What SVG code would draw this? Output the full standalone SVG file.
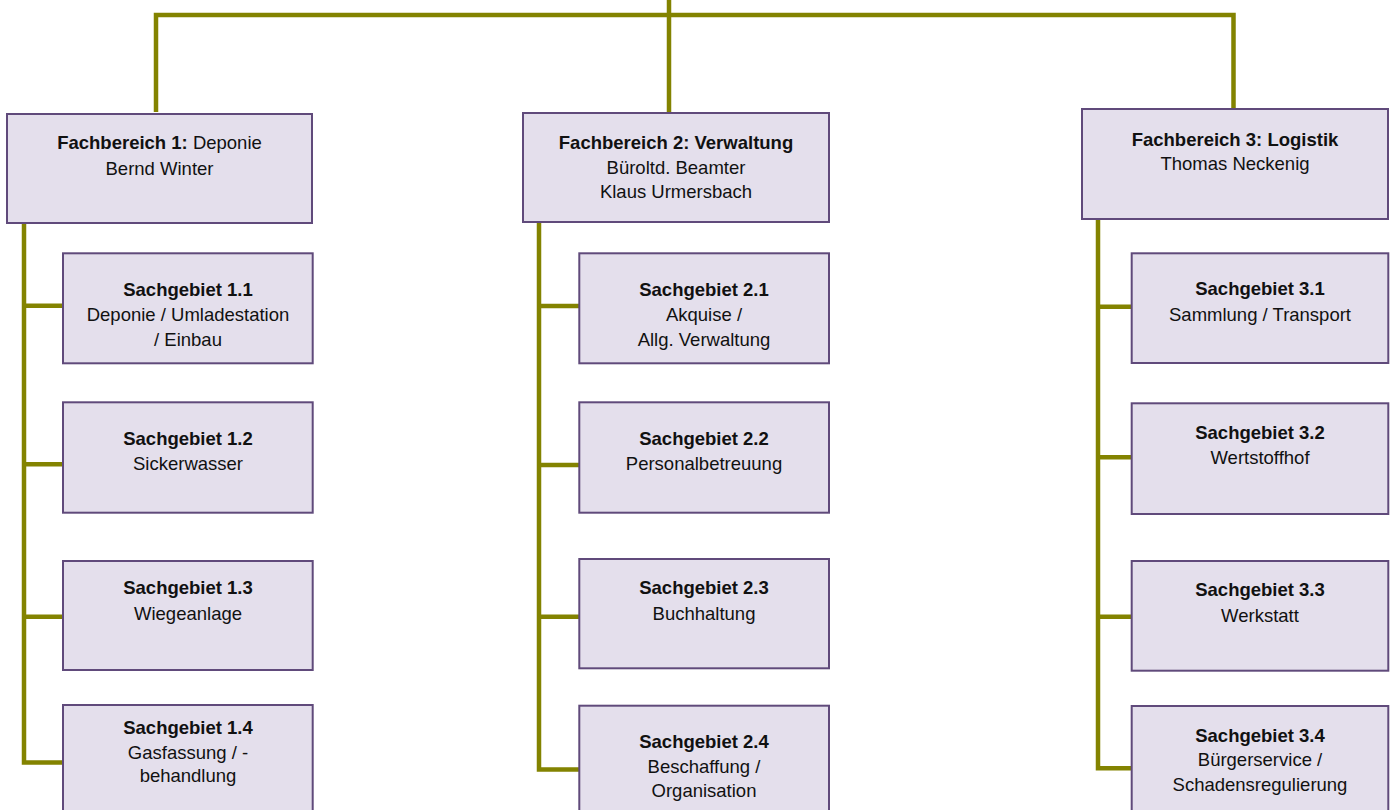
<svg xmlns="http://www.w3.org/2000/svg" width="1398" height="810" viewBox="0 0 1398 810">
<style>
.box{fill:#e4dfec;stroke:#604a7b;stroke-width:2}
.con{fill:none;stroke:#838300;stroke-width:4.5;stroke-linejoin:miter;stroke-linecap:butt}
text{font-family:"Liberation Sans",Arial,sans-serif;font-size:18.5px;fill:#111;text-anchor:middle}
.b{font-weight:bold}
</style>
<rect width="1398" height="810" fill="#ffffff"/>
<g id="connectors">
<path class="con" d="M669,0 V113"/>
<path class="con" d="M156,112 V15 H1233.5 V109"/>
<path class="con" d="M24,223 V762.5 H63"/>
<path class="con" d="M24,305.7 H63 M24,464.3 H63 M24,616.7 H63"/>
<path class="con" d="M539,222 V769.5 H579"/>
<path class="con" d="M539,306 H579 M539,465 H579 M539,616.7 H579"/>
<path class="con" d="M1098,219 V768.3 H1132"/>
<path class="con" d="M1098,306.7 H1132 M1098,457.3 H1132 M1098,616.7 H1132"/>
</g>
<g id="fb1">
<rect class="box" x="7" y="114" width="305" height="109"/>
<text x="159.5" y="149.3"><tspan class="b">Fachbereich 1:</tspan> Deponie</text>
<text x="159.5" y="175">Bernd Winter</text>
</g>
<g id="fb2">
<rect class="box" x="523" y="113" width="306" height="109"/>
<text x="676" y="149" class="b">Fachbereich 2: Verwaltung</text>
<text x="676" y="174">Büroltd. Beamter</text>
<text x="676" y="197.7">Klaus Urmersbach</text>
</g>
<g id="fb3">
<rect class="box" x="1082" y="109" width="306" height="110"/>
<text x="1235" y="146" class="b">Fachbereich 3: Logistik</text>
<text x="1235" y="170">Thomas Neckenig</text>
</g>
<g id="sg11">
<rect class="box" x="63" y="253.3" width="249.7" height="110"/>
<text x="188" y="296" class="b">Sachgebiet 1.1</text>
<text x="188" y="321.4">Deponie / Umladestation</text>
<text x="188" y="346">/ Einbau</text>
</g>
<g id="sg12">
<rect class="box" x="63" y="402.3" width="249.7" height="110.4"/>
<text x="188" y="445" class="b">Sachgebiet 1.2</text>
<text x="188" y="469.5">Sickerwasser</text>
</g>
<g id="sg13">
<rect class="box" x="63" y="561" width="249.7" height="109"/>
<text x="188" y="594.3" class="b">Sachgebiet 1.3</text>
<text x="188" y="620">Wiegeanlage</text>
</g>
<g id="sg14">
<rect class="box" x="63" y="705" width="249.7" height="115"/>
<text x="188" y="734" class="b">Sachgebiet 1.4</text>
<text x="188" y="759">Gasfassung / -</text>
<text x="188" y="782.3">behandlung</text>
</g>
<g id="sg21">
<rect class="box" x="579.3" y="253.3" width="249.7" height="110"/>
<text x="704" y="296" class="b">Sachgebiet 2.1</text>
<text x="704" y="321">Akquise /</text>
<text x="704" y="346">Allg. Verwaltung</text>
</g>
<g id="sg22">
<rect class="box" x="579.3" y="402.3" width="249.7" height="110.4"/>
<text x="704" y="445" class="b">Sachgebiet 2.2</text>
<text x="704" y="470">Personalbetreuung</text>
</g>
<g id="sg23">
<rect class="box" x="579.3" y="559" width="249.7" height="109.3"/>
<text x="704" y="594.3" class="b">Sachgebiet 2.3</text>
<text x="704" y="620">Buchhaltung</text>
</g>
<g id="sg24">
<rect class="box" x="579.3" y="705.7" width="249.7" height="115"/>
<text x="704" y="748.3" class="b">Sachgebiet 2.4</text>
<text x="704" y="772.7">Beschaffung /</text>
<text x="704" y="797.3">Organisation</text>
</g>
<g id="sg31">
<rect class="box" x="1131.7" y="253.3" width="256.6" height="109.7"/>
<text x="1260" y="295" class="b">Sachgebiet 3.1</text>
<text x="1260" y="321">Sammlung / Transport</text>
</g>
<g id="sg32">
<rect class="box" x="1131.7" y="403.3" width="256.6" height="110.7"/>
<text x="1260" y="439.3" class="b">Sachgebiet 3.2</text>
<text x="1260" y="464">Wertstoffhof</text>
</g>
<g id="sg33">
<rect class="box" x="1131.7" y="561" width="256.6" height="109.7"/>
<text x="1260" y="595.7" class="b">Sachgebiet 3.3</text>
<text x="1260" y="621.7">Werkstatt</text>
</g>
<g id="sg34">
<rect class="box" x="1131.7" y="706" width="256.6" height="115"/>
<text x="1260" y="741.7" class="b">Sachgebiet 3.4</text>
<text x="1260" y="765.7">Bürgerservice /</text>
<text x="1260" y="790.7">Schadensregulierung</text>
</g>
</svg>
